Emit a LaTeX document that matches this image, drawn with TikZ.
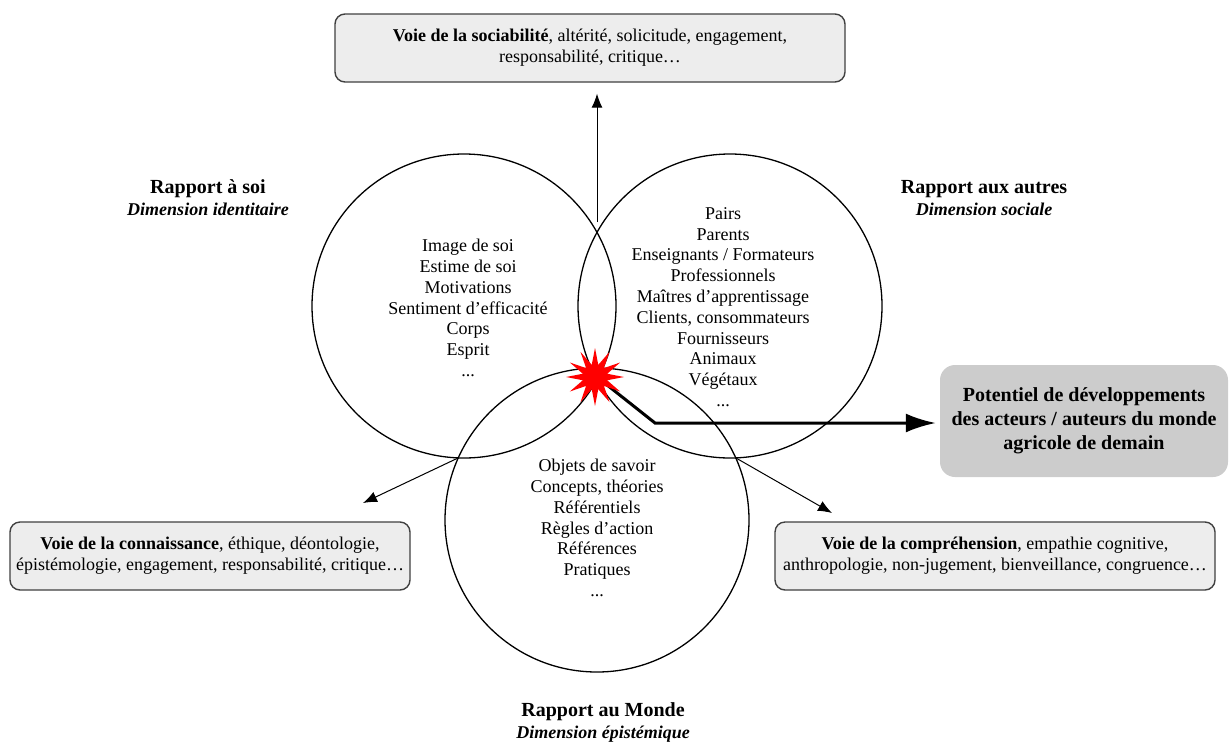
\documentclass[tikz,border=0pt]{standalone}
\usepackage{fontspec}
\setmainfont{Liberation Serif}
\usetikzlibrary{shapes.geometric,arrows.meta}
\newcommand{\dimtxt}[1]{{\fontsize{18}{22}\selectfont\textit{#1}}}

\begin{document}
\begin{tikzpicture}[x=1pt,y=-1pt,font=\fontsize{18}{20.8}\selectfont,
  rapport/.style={circle,draw,line width=1.3pt,minimum size=304pt,inner sep=0pt},
  voie/.style={draw=black!75,fill=black!7,rounded corners=10pt,line width=1.4pt,align=center,minimum height=68pt,inner sep=0pt},
  titre/.style={font=\fontsize{20}{22}\selectfont\bfseries,align=center},
  liste/.style={align=center}]
  \useasboundingbox (0,0) rectangle (1230,742);
  \node[rapport] (soi) at (464,306) {};
  \node[rapport] (autres) at (730,306) {};
  \node[rapport] (monde) at (597,520) {};
  \node[liste] (soi-txt) at (468,308) {Image de soi\\Estime de soi\\Motivations\\Sentiment d’efficacité\\Corps\\Esprit\\...};
  \node[liste] (autres-txt) at (723,307) {Pairs\\Parents\\Enseignants / Formateurs\\Professionnels\\Maîtres d’apprentissage\\Clients, consommateurs\\Fournisseurs\\Animaux\\Végétaux\\...};
  \node[liste] (monde-txt) at (597,528) {Objets de savoir\\Concepts, théories\\Référentiels\\Règles d’action\\Références\\Pratiques\\...};
  \node[titre] (soi-titre) at (208,198) {Rapport à soi\\\dimtxt{Dimension identitaire}};
  \node[titre] (autres-titre) at (984,198) {Rapport aux autres\\\dimtxt{Dimension sociale}};
  \node[titre] (monde-titre) at (603,722) {Rapport au Monde\\\dimtxt{Dimension épistémique}};
  \node[voie,minimum width=510pt] (sociab) at (590,48) {\textbf{Voie de la sociabilité}, altérité, solicitude, engagement,\\responsabilité, critique…};
  \node[voie,minimum width=400pt] (connais) at (210,556) {\textbf{Voie de la connaissance}, éthique, déontologie,\\épistémologie, engagement, responsabilité, critique…};
  \node[voie,minimum width=440pt] (compreh) at (995,556) {\textbf{Voie de la compréhension}, empathie cognitive,\\anthropologie, non-jugement, bienveillance, congruence…};
  \node[fill=black!20,rounded corners=15pt,minimum width=288pt,minimum height=112pt,align=center,inner sep=0pt,
    font=\fontsize{20}{24}\selectfont\bfseries] (potentiel) at (1084,421) {Potentiel de développements\\des acteurs / auteurs du monde\\agricole de demain};
  \coordinate (haut) at (597,222);
  \coordinate (gauche) at (458,458);
  \coordinate (droite) at (736,458);
  \coordinate (gauche-fin) at (363,503);
  \coordinate (droite-fin) at (832,513);
  \coordinate (coude) at (655,423);
  \path[-{Latex[length=14pt,width=11pt]},line width=1pt]
    (haut) edge [shorten >=11pt] (haut |- sociab.south)
    (gauche) edge (gauche-fin)
    (droite) edge (droite-fin);
  \draw[line width=3pt,-{Latex[length=30pt,width=19pt]},shorten >=4pt] (597,377) -- (coude) -- (coude -| potentiel.west);
  \node[star,star points=12,star point ratio=2.3,minimum size=58pt,inner sep=0pt,fill=red] (choc) at (595,377) {};
\end{tikzpicture}
\end{document}
